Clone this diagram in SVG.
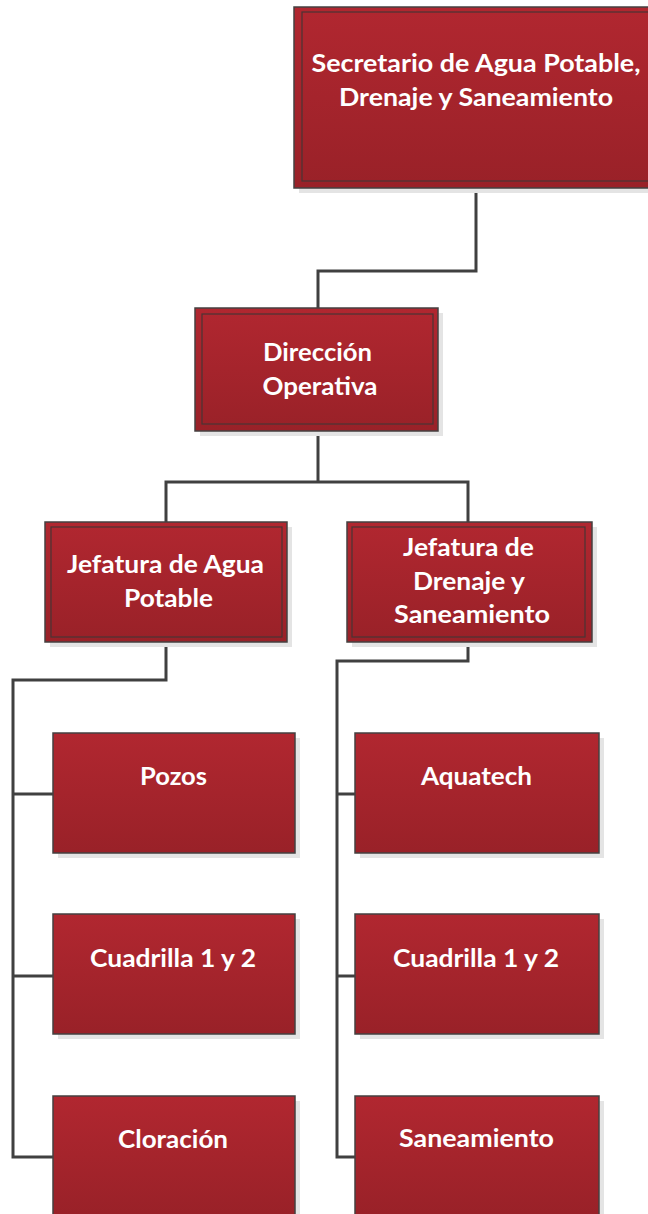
<svg xmlns="http://www.w3.org/2000/svg" width="648" height="1214" viewBox="0 0 648 1214">
<defs>
<linearGradient id="red" x1="0" y1="0" x2="0" y2="1">
<stop offset="0" stop-color="#b12730"/>
<stop offset="1" stop-color="#992128"/>
</linearGradient>
<style>
.sh{fill:#e4e4e4;}
.box{fill:url(#red);stroke:#454040;stroke-width:1.5;}
.inner{fill:none;stroke:#4a3434;stroke-width:1.2;}
.t{font-family:Lato,"Open Sans","Liberation Sans",sans-serif;font-weight:bold;font-size:24px;fill:#ffffff;text-anchor:middle;}
.c{fill:none;stroke:#404040;stroke-width:3;stroke-linejoin:miter;}
</style>
</defs>
<rect width="648" height="1214" fill="#ffffff"/>
<g id="connectors">
<polyline class="c" points="476,188 476,271 318,271 318,308"/>
<polyline class="c" points="318,431 318,482"/>
<polyline class="c" points="166,522 166,482 468,482 468,522"/>
<polyline class="c" points="166,642 166,680 13,680 13,1157 53,1157"/>
<line class="c" x1="13" y1="794" x2="53" y2="794"/>
<line class="c" x1="13" y1="976" x2="53" y2="976"/>
<polyline class="c" points="468,642 468,661 337,661 337,1157 355,1157"/>
<line class="c" x1="337" y1="794" x2="355" y2="794"/>
<line class="c" x1="337" y1="976" x2="355" y2="976"/>
</g>
<g id="secretario">
<rect class="sh" x="299" y="12" width="364" height="181"/>
<rect class="box" x="294" y="7" width="364" height="181"/>
<rect class="inner" x="302" y="12" width="348" height="169"/>
<text class="t" x="476" y="72" font-size="25" textLength="329" lengthAdjust="spacingAndGlyphs">Secretario de Agua Potable,</text>
<text class="t" x="476" y="106" font-size="25" textLength="274" lengthAdjust="spacingAndGlyphs">Drenaje y Saneamiento</text>
</g>
<g id="direccion">
<rect class="sh" x="200" y="313" width="243" height="123"/>
<rect class="box" x="195" y="308" width="243" height="123"/>
<rect class="inner" x="202" y="314" width="231" height="110"/>
<text class="t" x="317.5" y="361" textLength="109" lengthAdjust="spacingAndGlyphs">Dirección</text>
<text class="t" x="320" y="395" textLength="115" lengthAdjust="spacingAndGlyphs">Operativa</text>
</g>
<g id="jefatura-agua">
<rect class="sh" x="50" y="527" width="242" height="120"/>
<rect class="box" x="45" y="522" width="242" height="120"/>
<rect class="inner" x="51" y="527" width="231" height="110"/>
<text class="t" x="165.5" y="573" textLength="197" lengthAdjust="spacingAndGlyphs">Jefatura de Agua</text>
<text class="t" x="168.5" y="607" textLength="89" lengthAdjust="spacingAndGlyphs">Potable</text>
</g>
<g id="jefatura-drenaje">
<rect class="sh" x="352" y="527" width="245" height="120"/>
<rect class="box" x="347" y="522" width="245" height="120"/>
<rect class="inner" x="352" y="527" width="233" height="110"/>
<text class="t" x="468.5" y="556" textLength="131" lengthAdjust="spacingAndGlyphs">Jefatura de</text>
<text class="t" x="469" y="590" textLength="112" lengthAdjust="spacingAndGlyphs">Drenaje y</text>
<text class="t" x="472" y="623" textLength="156" lengthAdjust="spacingAndGlyphs">Saneamiento</text>
</g>
<g id="pozos">
<rect class="sh" x="58" y="738" width="242" height="120"/>
<rect class="box" x="53" y="733" width="242" height="120"/>
<text class="t" x="173.5" y="785" textLength="67" lengthAdjust="spacingAndGlyphs">Pozos</text>
</g>
<g id="cuadrilla-agua">
<rect class="sh" x="58" y="919" width="242" height="120"/>
<rect class="box" x="53" y="914" width="242" height="120"/>
<text class="t" x="173" y="967" textLength="166" lengthAdjust="spacingAndGlyphs">Cuadrilla 1 y 2</text>
</g>
<g id="cloracion">
<rect class="sh" x="58" y="1101" width="242" height="120"/>
<rect class="box" x="53" y="1096" width="242" height="120"/>
<text class="t" x="173" y="1148" textLength="110" lengthAdjust="spacingAndGlyphs">Cloración</text>
</g>
<g id="aquatech">
<rect class="sh" x="360" y="738" width="244" height="120"/>
<rect class="box" x="355" y="733" width="244" height="120"/>
<text class="t" x="476.5" y="785" textLength="111" lengthAdjust="spacingAndGlyphs">Aquatech</text>
</g>
<g id="cuadrilla-drenaje">
<rect class="sh" x="360" y="919" width="244" height="120"/>
<rect class="box" x="355" y="914" width="244" height="120"/>
<text class="t" x="476" y="967" textLength="166" lengthAdjust="spacingAndGlyphs">Cuadrilla 1 y 2</text>
</g>
<g id="saneamiento">
<rect class="sh" x="360" y="1101" width="244" height="120"/>
<rect class="box" x="355" y="1096" width="244" height="120"/>
<text class="t" x="476.5" y="1147" textLength="155" lengthAdjust="spacingAndGlyphs">Saneamiento</text>
</g>
</svg>
